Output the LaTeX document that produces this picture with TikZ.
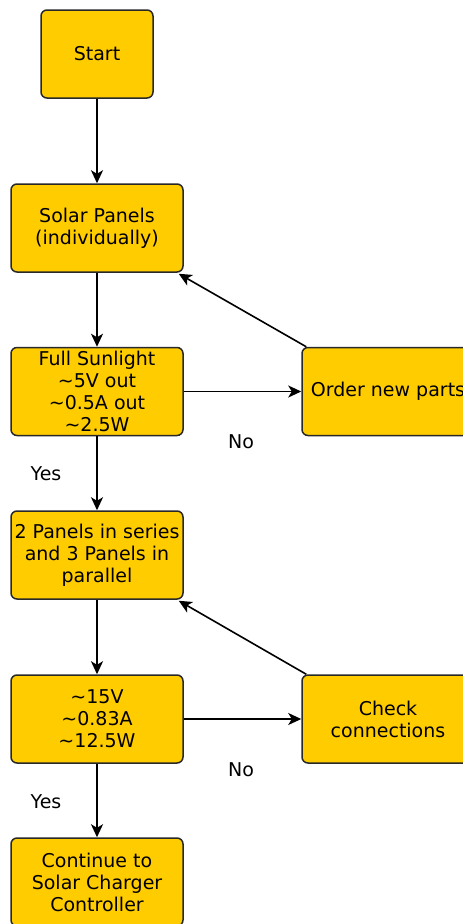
\documentclass[tikz,border=0pt]{standalone}
\usepackage{fontspec}
\setmainfont{DejaVu Sans}
\usetikzlibrary{arrows.meta}
\definecolor{boxfill}{RGB}{255,204,0}
\definecolor{boxline}{RGB}{40,40,40}
\tikzset{
  flowbox/.style={draw=boxline, line width=1.5pt, fill=boxfill, rounded corners=6pt,
    minimum width=172pt, minimum height=88pt, inner sep=0pt, align=center,
    font=\fontsize{19}{22}\selectfont},
  flowarrow/.style={draw=black, line width=1.6pt,
    -{Stealth[length=13pt, width=12pt, inset=3.5pt]}},
  flowlabel/.style={font=\fontsize{19}{22}\selectfont, inner sep=0pt}
}
\begin{document}
\begin{tikzpicture}[x=1pt, y=-1pt]
  \useasboundingbox (0,0) rectangle (463,924);
  \clip (0,0) rectangle (463,924);
  % main column
  \node[flowbox, minimum width=112pt] (start) at (97,54) {Start};
  \node[flowbox] (solar) at (97,228) {Solar Panels\\(individually)};
  \node[flowbox] (sun) at (97,391.5) {Full Sunlight\\\textasciitilde 5V out\\\textasciitilde 0.5A out\\\textasciitilde 2.5W};
  \node[flowbox] (array) at (97,555) {2 Panels in series\\and 3 Panels in\\parallel};
  \node[flowbox] (meas) at (97,719) {\textasciitilde 15V\\\textasciitilde 0.83A\\\textasciitilde 12.5W};
  \node[flowbox] (cont) at (97,882) {Continue to\\Solar Charger\\Controller};
  % right column
  \node[flowbox] (order) at (388,391.5) {Order new parts};
  \node[flowbox] (check) at (388,719) {Check\\connections};
  % connectors
  \draw[flowarrow] (start) -- (solar);
  \draw[flowarrow] (solar) -- (sun);
  \draw[flowarrow] (sun) -- (array);
  \draw[flowarrow] (array) -- (meas);
  \draw[flowarrow] (meas) -- (cont);
  \draw[flowarrow] (sun) -- (order);
  \draw[flowarrow] (meas) -- (check);
  \draw[flowarrow] ([xshift=5pt]order.north west) -- ([xshift=-5pt,yshift=-1pt]solar.south east);
  \draw[flowarrow] ([xshift=5pt]check.north west) -- ([xshift=-5pt,yshift=-1pt]array.south east);
  % labels
  \node[flowlabel] (no1) at (241,442) {No};
  \node[flowlabel] (yes1) at (46,474) {Yes};
  \node[flowlabel] (no2) at (241,770) {No};
  \node[flowlabel] (yes2) at (46,802) {Yes};
\end{tikzpicture}
\end{document}
